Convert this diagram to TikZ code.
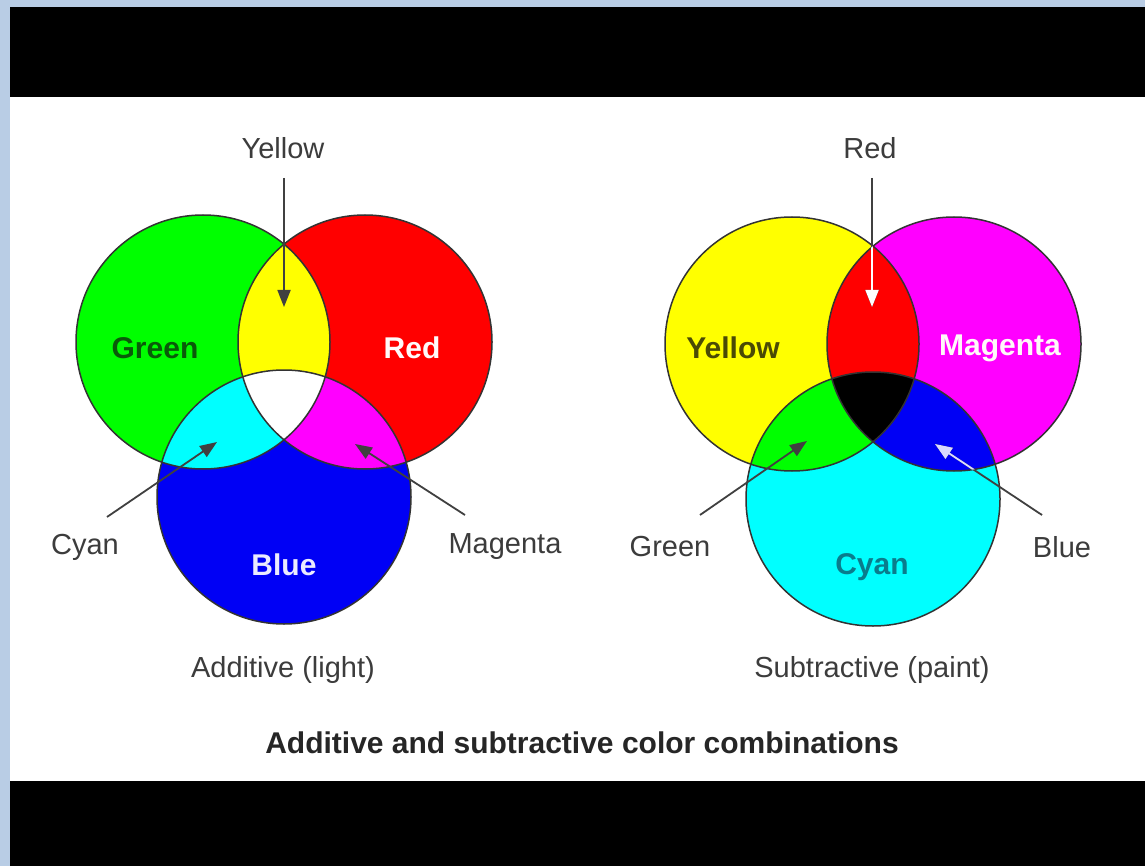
\documentclass[tikz,border=0pt]{standalone}
\usepackage{fontspec}
\setmainfont{Liberation Sans}
\usetikzlibrary{arrows.meta}
\definecolor{bgblue}{HTML}{B9CDE5}
\definecolor{lblgray}{HTML}{3C3C3C}
\definecolor{linegray}{HTML}{404040}
\definecolor{dkgreen}{HTML}{0A5A0A}
\definecolor{olive}{HTML}{4A4A05}
\definecolor{teal2}{HTML}{0A7C8C}
\definecolor{pG}{HTML}{00FF00}
\definecolor{pR}{HTML}{FF0000}
\definecolor{pB}{HTML}{0000F5}
\definecolor{pC}{HTML}{00FFFF}
\definecolor{pM}{HTML}{FF00FF}
\definecolor{pY}{HTML}{FFFF00}
\tikzset{
  ring/.style={circle, draw=black!80, line width=1.5pt, minimum size=254pt, inner sep=0pt},
  lbl/.style={text=lblgray, font=\fontsize{29}{32}\selectfont},
  inlbl/.style={font=\bfseries\fontsize{30}{34}\selectfont},
  ptr/.style={draw=linegray, line width=1.8pt, -{Triangle[length=17pt,width=13pt]}},
  wptr/.style={draw=white, line width=1.8pt, -{Triangle[length=17pt,width=13pt]}},
}
\begin{document}
\begin{tikzpicture}[x=1pt,y=-1pt]
\useasboundingbox (0,0) rectangle (1145,866);
\fill[bgblue] (0,0) rectangle (1145,866);
\fill[black] (10,7) rectangle (1145,97);
\fill[white] (10,97) rectangle (1145,781);
\fill[black] (10,781) rectangle (1145,866);

% ---------- Additive ----------
\coordinate (cG) at (203,342);
\coordinate (cR) at (365,342);
\coordinate (cB) at (284,497);
\fill[pG] (cG) circle[radius=127pt];
\fill[pR] (cR) circle[radius=127pt];
\fill[pB] (cB) circle[radius=127pt];
\begin{scope}\clip (cG) circle[radius=127pt]; \fill[pY] (cR) circle[radius=127pt]; \end{scope}
\begin{scope}\clip (cG) circle[radius=127pt]; \fill[pC] (cB) circle[radius=127pt]; \end{scope}
\begin{scope}\clip (cR) circle[radius=127pt]; \fill[pM] (cB) circle[radius=127pt]; \end{scope}
\begin{scope}\clip (cG) circle[radius=127pt]; \clip (cR) circle[radius=127pt]; \fill[white] (cB) circle[radius=127pt]; \end{scope}
\node[ring] (GR) at (cG) {};
\node[ring] (RR) at (cR) {};
\node[ring] (BR) at (cB) {};

\node[inlbl, text=dkgreen] (tGreen) at (155,348) {Green};
\node[inlbl, text=white!92!pink] (tRed) at (412,348) {Red};
\node[inlbl, text=white!92!blue] (tBlue) at (284,565) {Blue};

\node[lbl] (lYellow) at (283,148) {Yellow};
\node[lbl] (lCyan) at (85,547) {Cyan};
\node[lbl] (lMagenta) at (505,547) {Magenta};
\node[lbl] (lAdd) at (283,670) {Additive (light)};

\coordinate (yS) at (284,178); \coordinate (yT) at (284,307);
\coordinate (cS) at (107,517); \coordinate (cT) at (217,442);
\coordinate (mS) at (465,515); \coordinate (mT) at (355,444);
\draw[ptr] (yS) -- (yT);
\draw[ptr] (cS) -- (cT);
\draw[ptr] (mS) -- (mT);

% ---------- Subtractive ----------
\coordinate (cY) at (792,344);
\coordinate (cM) at (954,344);
\coordinate (cC) at (873,499);
\fill[pY] (cY) circle[radius=127pt];
\fill[pM] (cM) circle[radius=127pt];
\fill[pC] (cC) circle[radius=127pt];
\begin{scope}\clip (cY) circle[radius=127pt]; \fill[pR] (cM) circle[radius=127pt]; \end{scope}
\begin{scope}\clip (cY) circle[radius=127pt]; \fill[pG] (cC) circle[radius=127pt]; \end{scope}
\begin{scope}\clip (cM) circle[radius=127pt]; \fill[pB] (cC) circle[radius=127pt]; \end{scope}
\begin{scope}\clip (cY) circle[radius=127pt]; \clip (cM) circle[radius=127pt]; \fill[black] (cC) circle[radius=127pt]; \end{scope}
\node[ring] (YR) at (cY) {};
\node[ring] (MR) at (cM) {};
\node[ring] (CR) at (cC) {};

\node[inlbl, text=olive] (tYellow) at (733,348) {Yellow};
\node[inlbl, text=white!90!pink] (tMagenta) at (1000,348) {Magenta};
\node[inlbl, text=teal2] (tCyan) at (872,567) {Cyan};

\node[lbl] (lRed) at (870,148) {Red};
\node[lbl] (lGreen) at (670,547) {Green};
\node[lbl] (lBlue) at (1062,547) {Blue};
\node[lbl] (lSub) at (872,670) {Subtractive (paint)};

\coordinate (rS) at (872,178); \coordinate (rT) at (872,307);
\coordinate (gS) at (700,515); \coordinate (gT) at (807,441);
\coordinate (bS) at (1042,515); \coordinate (bT) at (935,444);
\draw[ptr] (rS) -- (rT);
\draw[ptr] (gS) -- (gT);
\draw[ptr] (bS) -- (bT);
\begin{scope}\clip (cY) circle[radius=127pt]; \clip (cM) circle[radius=127pt];
  \draw[wptr] (rS) -- (rT); \end{scope}
\begin{scope}\clip (cM) circle[radius=127pt]; \clip (cC) circle[radius=127pt];
  \draw[wptr, draw=white!85!blue] (bS) -- (bT); \end{scope}

\node[font=\bfseries\fontsize{30}{33}\selectfont, text=black!85] (title) at (582,743) {Additive and subtractive color combinations};
\end{tikzpicture}
\end{document}
